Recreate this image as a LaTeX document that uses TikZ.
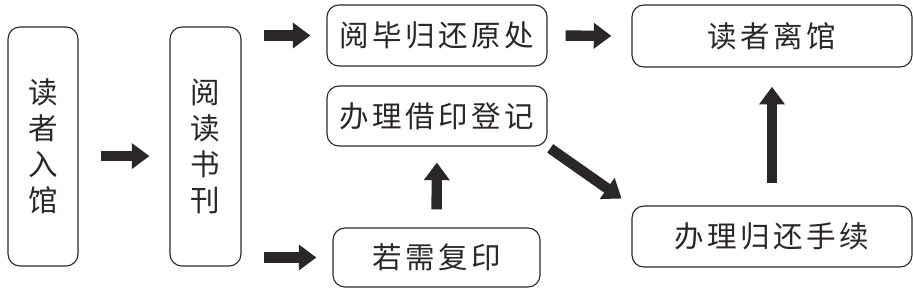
\documentclass[tikz,border=0pt]{standalone}
\usepackage{fontspec}
\newfontfamily\cjk[LetterSpace=12]{Noto Sans CJK SC}
\usetikzlibrary{arrows.meta}
\definecolor{ink}{HTML}{2B2726}
\begin{document}
\begin{tikzpicture}[
        x=0.025cm, y=-0.025cm,
        box/.style={rectangle, draw=ink, line width=0.8pt, rounded corners=0.3cm, inner sep=0pt,
            font=\cjk\fontsize{21pt}{25.6pt}\selectfont, text=ink, align=center},
        arrow/.style={-{Triangle[width=0.62cm, length=0.44cm]}, line width=0.26cm, ink}
    ]
    \useasboundingbox (0,0) rectangle (913,291);

    \node[box, minimum width=1.75cm, minimum height=5.975cm] (enter) at (43,146.5) {读\\者\\入\\馆};
    \node[box, minimum width=1.775cm, minimum height=5.975cm] (read) at (205.5,146.5) {阅\\读\\书\\刊};
    \node[box, minimum width=5.5cm, minimum height=1.525cm] (return) at (437,35.5) {阅毕归还原处};
    \node[box, minimum width=5.5cm, minimum height=1.5cm] (register) at (437,116) {办理借印登记};
    \node[box, minimum width=5.175cm, minimum height=1.475cm] (copy) at (436.5,257.5) {若需复印};
    \node[box, minimum width=7cm, minimum height=1.55cm] (leave) at (772,36) {读者离馆};
    \node[box, minimum width=7cm, minimum height=1.525cm] (checkin) at (772,236.5) {办理归还手续};

    \draw[arrow, shorten <=0.55cm, shorten >=0.5cm] ([yshift=-0.24cm]enter.east) -- ([yshift=-0.24cm]read.west);
    \draw[arrow, shorten <=0.55cm, shorten >=0.4cm] (read.east |- return.west) -- (return.west);
    \draw[arrow, shorten <=0.55cm, shorten >=0.4cm] (read.east |- copy.west) -- (copy.west);
    \draw[arrow, shorten <=0.45cm, shorten >=0.4cm] (copy.north) -- (register.south);
    \draw[arrow, shorten <=0.45cm, shorten >=0.5cm] (return.east) -- (leave.west);
    \draw[arrow, shorten <=0.08cm, shorten >=0.3cm] (register.south east) -- (checkin.north west);
    \draw[arrow, shorten <=0.55cm, shorten >=0.48cm] (checkin.north) -- (leave.south);
\end{tikzpicture}
\end{document}
